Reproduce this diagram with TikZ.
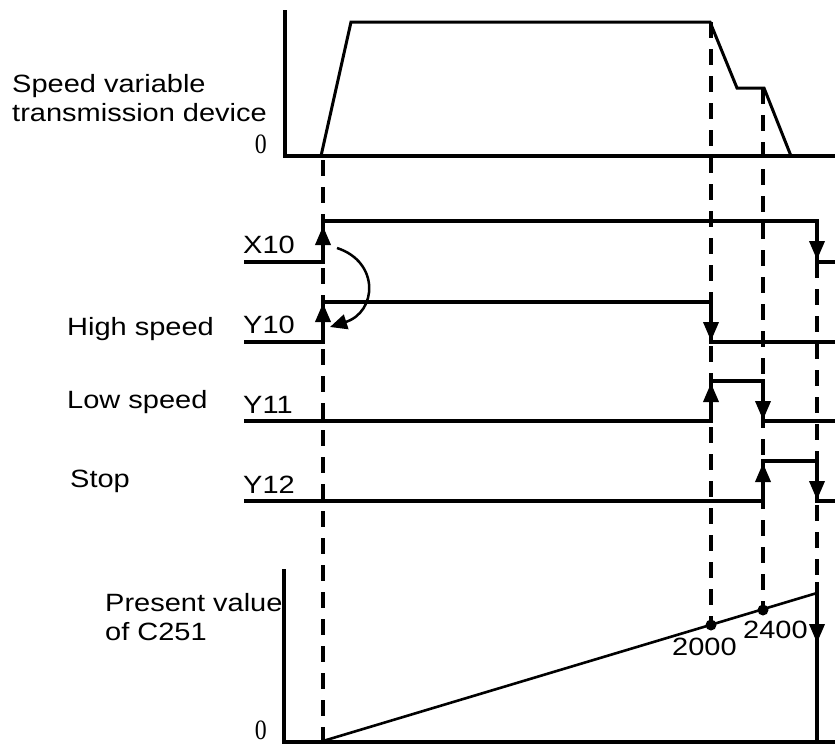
\documentclass[tikz,border=0pt]{standalone}
\usepackage{fontspec}
\setmainfont{Liberation Sans}
\newfontfamily\zerofont{Liberation Serif}
\usetikzlibrary{arrows.meta}
\begin{document}
\begin{tikzpicture}[x=1pt,y=-1pt,
 sig/.style={line width=3.6pt},
 axis/.style={line width=3.6pt},
 dsh/.style={line width=3.6pt, dash pattern=on 16pt off 11pt},
 tip/.style={-{Triangle[length=19pt,width=15pt]}, line width=3.6pt},
 lbl/.style={inner sep=0pt, anchor=base west, font=\fontsize{25}{30}\selectfont},
 zlbl/.style={inner sep=0pt, anchor=base east, font=\fontsize{28}{30}\selectfont\zerofont},
]
\useasboundingbox (0,0) rectangle (835,744);
% top chart
\draw[axis] (285,10) -- (285,156) -- (835,156);
\draw[line width=3pt] (321,156) -- (351,22) -- (710,22) -- (737,88) -- (764,88) -- (791,156);
% dashed guides
\draw[dsh] (323,160) -- (323,740);
\draw[dsh] (711,22) -- (711,626);
\draw[dsh] (763,88) -- (763,610);
\draw[dsh] (817,262) -- (817,582);
% signals
\draw[sig] (244,262) -- (323,262) -- (323,221) -- (817,221) -- (817,262) -- (835,262);
\draw[sig] (244,342) -- (323,342) -- (323,302) -- (711,302) -- (711,342) -- (835,342);
\draw[sig] (244,421) -- (711,421) -- (711,381) -- (763,381) -- (763,421) -- (835,421);
\draw[sig] (244,501) -- (763,501) -- (763,461) -- (817,461) -- (817,501) -- (835,501);
% edge arrows
\draw[tip] (323,252) -- (323,226);
\draw[tip] (323,332) -- (323,303);
\draw[tip] (817,233) -- (817,260);
\draw[tip] (711,313) -- (711,341);
\draw[tip] (711,412) -- (711,383);
\draw[tip] (763,393) -- (763,420);
\draw[tip] (763,492) -- (763,463);
\draw[tip] (817,473) -- (817,500);
% curved arrow
\draw[line width=2.5pt, -{Triangle[length=17pt,width=15pt]}] (337,248) .. controls (380,262) and (377,312) .. (330,327);
% bottom chart
\draw[axis] (284,569) -- (284,742) -- (835,742);
\draw[line width=2.6pt] (323,741) -- (817,593);
\draw[sig] (817,582) -- (817,742);
\draw[tip] (817,613) -- (817,643);
\fill (711,625) circle (5.5pt);
\fill (763,610) circle (5.5pt);
% labels
\node[lbl] (t1) at (12,92) {\scalebox{1.16}[1]{Speed variable}};
\node[lbl] (t2) at (12,121) {\scalebox{1.16}[1]{transmission device}};
\node[zlbl] (z1) at (267,153) {\scalebox{0.85}[1]{0}};
\node[lbl] (x10) at (243,253) {\scalebox{1.16}[1]{X10}};
\node[lbl] (hs) at (67,335) {\scalebox{1.16}[1]{High speed}};
\node[lbl] (y10) at (243,333) {\scalebox{1.16}[1]{Y10}};
\node[lbl] (ls) at (67,408) {\scalebox{1.16}[1]{Low speed}};
\node[lbl] (y11) at (243,413) {\scalebox{1.16}[1]{Y11}};
\node[lbl] (st) at (70,487) {\scalebox{1.16}[1]{Stop}};
\node[lbl] (y12) at (243,493) {\scalebox{1.16}[1]{Y12}};
\node[lbl] (p1) at (105,611) {\scalebox{1.16}[1]{Present value}};
\node[lbl] (p2) at (105,640) {\scalebox{1.16}[1]{of C251}};
\node[zlbl] (z2) at (267,739) {\scalebox{0.85}[1]{0}};
\node[lbl] (v1) at (672,655) {\scalebox{1.16}[1]{2000}};
\node[lbl] (v2) at (743,638) {\scalebox{1.16}[1]{2400}};
\end{tikzpicture}
\end{document}
